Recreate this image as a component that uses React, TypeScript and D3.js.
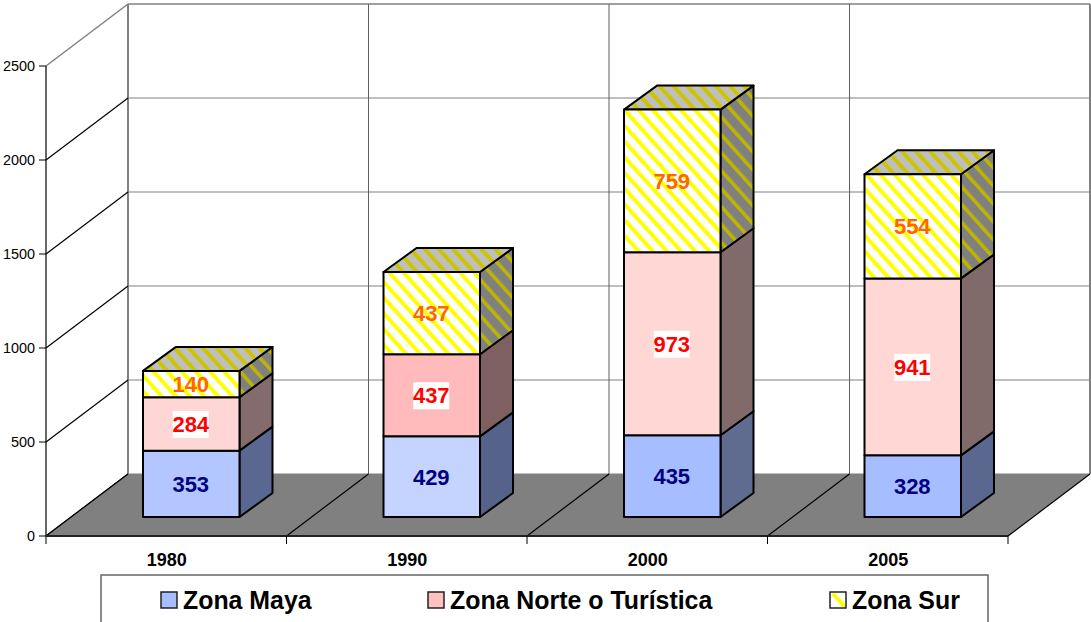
import React from "react";
import * as d3 from "d3";

const categories = ["1980", "1990", "2000", "2005"];
const zonaMaya = [353, 429, 435, 328];
const zonaNorte = [284, 437, 973, 941];
const zonaSur = [140, 437, 759, 554];
const yTicks = [0, 500, 1000, 1500, 2000, 2500];
const seriesNames = ["Zona Maya", "Zona Norte o Turística", "Zona Sur"];
const mayaFills = ["#B3C6FF", "#C5D3FF", "#A6BDFF", "#A6BDFF"];
const norteFills = ["#FFD6D6", "#FFBBBB", "#FFD8D6", "#FFD8D6"];
const mayaSides = ["#5A6790", "#55628A", "#5F6B8F", "#5A678F"];
const norteSides = ["#846C6C", "#7F6060", "#806A6A", "#806A6A"];

const W = 1091, H = 622;
const DX = 82, DY = -62;
const BAR_DX = 33, BAR_DY = -24;
const x = d3.scaleBand<string>().domain(categories).range([46, 1008]);
const y = d3.scaleLinear().domain([0, 2500]).range([536, 66]);
const barLeftOffset = 97, barWidth = 96.5, floorRaise = 19;
const k = y(0) - y(1);

const poly = (pts: [number, number][]) => d3.line()(pts) + "Z";

function Box({ x0, yBottom, yTop, front, side, top }: any) {
  const x1 = x0 + barWidth;
  return (
    <g stroke="#000" strokeWidth={2} strokeLinejoin="round">
      <path d={poly([[x1, yBottom], [x1 + BAR_DX, yBottom + BAR_DY], [x1 + BAR_DX, yTop + BAR_DY], [x1, yTop]])} fill={side} />
      {top && <path d={poly([[x0, yTop], [x1, yTop], [x1 + BAR_DX, yTop + BAR_DY], [x0 + BAR_DX, yTop + BAR_DY]])} fill={top} />}
      <rect x={x0} y={yTop} width={barWidth} height={yBottom - yTop} fill={front} />
    </g>
  );
}

function Stripes({ id, bg, fg, period, stripe }: { id: string; bg: string; fg: string; period: number; stripe: number }) {
  return (
    <pattern id={id} width={period} height={period} patternUnits="userSpaceOnUse" patternTransform="rotate(-42)">
      <rect width={period} height={period} fill={bg} />
      <rect width={stripe} height={period} fill={fg} />
    </pattern>
  );
}

export default function App() {
  const bandW = x.bandwidth();
  const backX = [0, 1, 2, 3, 4].map((i) => 46 + DX + i * bandW);
  const frontX = [0, 1, 2, 3, 4].map((i) => 46 + i * bandW);
  const font = "'Liberation Sans', Arial, sans-serif";
  const baseY = y(0) - floorRaise;
  return (
    <svg width={W} height={H} style={{ position: "absolute", left: 0, top: 0, display: "block" }} fontFamily={font}>
      <defs>
        <Stripes id="surFront" bg="#FFFFFF" fg="#FFFF00" period={10.5} stripe={4} />
        <Stripes id="surTop" bg="#BFBFBF" fg="#CCC400" period={10.5} stripe={4} />
        <Stripes id="surSide" bg="#808080" fg="#BDB500" period={12} stripe={3.6} />
      </defs>
      <rect width={W} height={H} fill="#fff" />

      {/* back wall gridlines */}
      {yTicks.map((t) => (
        <line key={t} x1={46 + DX} x2={frontX[4] + DX} y1={y(t) + DY} y2={y(t) + DY} stroke="#808080" strokeWidth={t === 2500 ? 1.5 : 1.2} />
      ))}
      {backX.map((bx, i) => (
        <line key={i} x1={bx} x2={bx} y1={y(2500) + DY} y2={y(0) + DY} stroke={i === 0 || i === 4 ? "#808080" : "#606060"} strokeWidth={i === 0 || i === 4 ? 2 : 1} />
      ))}
      {/* side wall gridlines */}
      {yTicks.map((t) => (
        <line key={t} x1={46} x2={46 + DX} y1={y(t)} y2={y(t) + DY} stroke={t === 2500 ? "#808080" : "#000"} strokeWidth={t === 2500 ? 1.5 : 1.2} />
      ))}
      {/* floor */}
      <path d={poly([[46, y(0)], [frontX[4], y(0)], [frontX[4] + DX, y(0) + DY], [46 + DX, y(0) + DY]])} fill="#808080" />
      {frontX.map((fx, i) => (
        <line key={i} x1={fx} x2={fx + DX} y1={y(0)} y2={y(0) + DY} stroke="#000" strokeWidth={1.2} />
      ))}

      {/* axes */}
      <line x1={46} x2={46} y1={y(2500)} y2={y(0)} stroke="#000" strokeWidth={1.2} />
      <line x1={46} x2={frontX[4]} y1={y(0)} y2={y(0)} stroke="#222" strokeWidth={1.8} />
      {yTicks.map((t) => (
        <g key={t}>
          <line x1={39} x2={46} y1={y(t)} y2={y(t)} stroke="#000" />
          <text x={35} y={y(t) + 5} textAnchor="end" fontSize={14.4} fill="#000">{t}</text>
        </g>
      ))}
      {frontX.map((fx, i) => (
        <line key={i} x1={fx} x2={fx} y1={y(0)} y2={y(0) + 8} stroke="#000" />
      ))}

      {/* bars */}
      {categories.map((c, i) => {
        const x0 = (x(c) as number) + barLeftOffset;
        const y1 = baseY - zonaMaya[i] * k;
        const y2 = y1 - zonaNorte[i] * k;
        const y3 = y2 - zonaSur[i] * k;
        const cx = x0 + barWidth / 2 - 0.5;
        const labels: [number, number, string, boolean][] = [
          [zonaMaya[i], (baseY + y1) / 2, "#000080", false],
          [zonaNorte[i], (y1 + y2) / 2, "#FF0000", true],
          [zonaSur[i], (y2 + y3) / 2, "#FF6600", false],
        ];
        return (
          <g key={c}>
            <Box x0={x0} yBottom={baseY} yTop={y1} front={mayaFills[i]} side={mayaSides[i]} />
            <Box x0={x0} yBottom={y1} yTop={y2} front={norteFills[i]} side={norteSides[i]} />
            <Box x0={x0} yBottom={y2} yTop={y3} front="url(#surFront)" side="url(#surSide)" top="url(#surTop)" />
            {labels.map(([v, ly, col, bg]) => (
              <g key={col}>
                {bg && <rect x={cx - 18} y={ly - 13} width={36} height={27} fill="#fff" />}
                <text x={cx} y={ly + 8} textAnchor="middle" fontSize={22} fontWeight="bold" fill={col}>{v}</text>
              </g>
            ))}
            <text x={(x(c) as number) + bandW / 2 + 0.5} y={566} textAnchor="middle" fontSize={18} fontWeight="bold" fill="#000">{c}</text>
          </g>
        );
      })}

      {/* legend */}
      <rect x={101} y={575} width={887} height={60} fill="#fff" stroke="#666" strokeWidth={1.5} />
      {seriesNames.map((name, i) => {
        const sx = [161, 428, 830][i];
        const fills = ["#A6BDFF", "#FFC0C0", "#fff"];
        return (
          <g key={name}>
            <rect x={sx} y={592} width={16} height={16} fill={fills[i]} stroke="#222" strokeWidth={1.5} />
            {i === 2 && <path d={poly([[sx + 1, 594], [sx + 5, 593], [sx + 15, 604], [sx + 15, 607], [sx + 12, 607]])} fill="#FFFF00" />}
            <text x={sx + 22} y={609} fontSize={24.9} fontWeight="bold" fill="#000">{name}</text>
          </g>
        );
      })}
    </svg>
  );
}
